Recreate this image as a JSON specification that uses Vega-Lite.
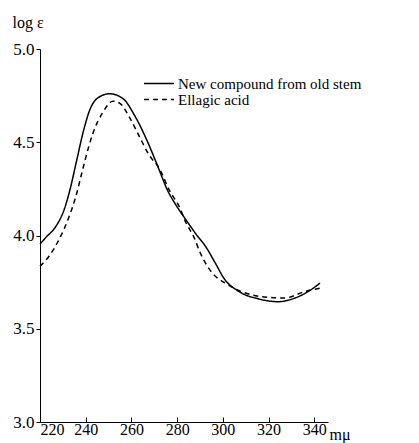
{
  "$schema": "https://vega.github.io/schema/vega-lite/v6.json",
  "width": 288,
  "height": 373,
  "autosize": {"type": "none"},
  "padding": {"left": 40, "top": 49, "right": 91, "bottom": 21},
  "background": "white",
  "config": {"view": {"stroke": null}, "font": "Liberation Serif"},
  "data": {
    "values": [
      {"series": "New compound from old stem", "wavelength": 220, "loge": 3.955},
      {"series": "New compound from old stem", "wavelength": 222.6, "loge": 3.99},
      {"series": "New compound from old stem", "wavelength": 227, "loge": 4.05},
      {"series": "New compound from old stem", "wavelength": 230.6, "loge": 4.14},
      {"series": "New compound from old stem", "wavelength": 233, "loge": 4.24},
      {"series": "New compound from old stem", "wavelength": 236, "loge": 4.4},
      {"series": "New compound from old stem", "wavelength": 239, "loge": 4.56},
      {"series": "New compound from old stem", "wavelength": 242, "loge": 4.68},
      {"series": "New compound from old stem", "wavelength": 245, "loge": 4.735},
      {"series": "New compound from old stem", "wavelength": 250.4, "loge": 4.76},
      {"series": "New compound from old stem", "wavelength": 256.2, "loge": 4.735},
      {"series": "New compound from old stem", "wavelength": 262, "loge": 4.63},
      {"series": "New compound from old stem", "wavelength": 267.5, "loge": 4.49},
      {"series": "New compound from old stem", "wavelength": 272.2, "loge": 4.35},
      {"series": "New compound from old stem", "wavelength": 275.5, "loge": 4.25},
      {"series": "New compound from old stem", "wavelength": 279.4, "loge": 4.165},
      {"series": "New compound from old stem", "wavelength": 283.8, "loge": 4.085},
      {"series": "New compound from old stem", "wavelength": 288.1, "loge": 4.01},
      {"series": "New compound from old stem", "wavelength": 292.5, "loge": 3.94},
      {"series": "New compound from old stem", "wavelength": 296.8, "loge": 3.85},
      {"series": "New compound from old stem", "wavelength": 300.5, "loge": 3.77},
      {"series": "New compound from old stem", "wavelength": 307, "loge": 3.7},
      {"series": "New compound from old stem", "wavelength": 315.7, "loge": 3.66},
      {"series": "New compound from old stem", "wavelength": 324.3, "loge": 3.645},
      {"series": "New compound from old stem", "wavelength": 331.6, "loge": 3.665},
      {"series": "New compound from old stem", "wavelength": 337.4, "loge": 3.7},
      {"series": "New compound from old stem", "wavelength": 342.5, "loge": 3.745},
      {"series": "Ellagic acid", "wavelength": 220, "loge": 3.835},
      {"series": "Ellagic acid", "wavelength": 224, "loge": 3.89},
      {"series": "Ellagic acid", "wavelength": 228.4, "loge": 3.98},
      {"series": "Ellagic acid", "wavelength": 232.7, "loge": 4.1},
      {"series": "Ellagic acid", "wavelength": 235.7, "loge": 4.21},
      {"series": "Ellagic acid", "wavelength": 238.6, "loge": 4.35},
      {"series": "Ellagic acid", "wavelength": 241.4, "loge": 4.48},
      {"series": "Ellagic acid", "wavelength": 243.2, "loge": 4.55},
      {"series": "Ellagic acid", "wavelength": 247.5, "loge": 4.66},
      {"series": "Ellagic acid", "wavelength": 251.9, "loge": 4.72},
      {"series": "Ellagic acid", "wavelength": 254.8, "loge": 4.71},
      {"series": "Ellagic acid", "wavelength": 259.1, "loge": 4.635},
      {"series": "Ellagic acid", "wavelength": 263.5, "loge": 4.53},
      {"series": "Ellagic acid", "wavelength": 267.8, "loge": 4.43},
      {"series": "Ellagic acid", "wavelength": 272.2, "loge": 4.36},
      {"series": "Ellagic acid", "wavelength": 276.5, "loge": 4.245},
      {"series": "Ellagic acid", "wavelength": 280.9, "loge": 4.155},
      {"series": "Ellagic acid", "wavelength": 283.8, "loge": 4.07},
      {"series": "Ellagic acid", "wavelength": 287.4, "loge": 3.99},
      {"series": "Ellagic acid", "wavelength": 290, "loge": 3.91},
      {"series": "Ellagic acid", "wavelength": 292.5, "loge": 3.85},
      {"series": "Ellagic acid", "wavelength": 295.3, "loge": 3.8},
      {"series": "Ellagic acid", "wavelength": 301, "loge": 3.745},
      {"series": "Ellagic acid", "wavelength": 308, "loge": 3.7},
      {"series": "Ellagic acid", "wavelength": 318, "loge": 3.67},
      {"series": "Ellagic acid", "wavelength": 327, "loge": 3.665},
      {"series": "Ellagic acid", "wavelength": 336, "loge": 3.7},
      {"series": "Ellagic acid", "wavelength": 343.5, "loge": 3.72}
    ]
  },
  "mark": {"type": "line", "interpolate": "monotone", "color": "black", "strokeWidth": 1.5},
  "encoding": {
    "x": {
      "field": "wavelength",
      "type": "quantitative",
      "scale": {"domain": [220, 346], "nice": false, "zero": false},
      "axis": {
        "values": [220, 240, 260, 280, 300, 320, 340],
        "grid": false,
        "domainColor": "black",
        "tickColor": "black",
        "tickSize": -5,
        "labelFont": "Liberation Serif",
        "labelFontSize": 16,
        "labelColor": "black",
        "labelFlush": true,
        "labelPadding": 4,
        "title": "mμ",
        "titleFont": "Liberation Serif",
        "titleFontSize": 16,
        "titleFontWeight": "normal",
        "titleColor": "black",
        "titleX": 289,
        "titleY": 17,
        "titleAlign": "left",
        "titleBaseline": "alphabetic"
      }
    },
    "y": {
      "field": "loge",
      "type": "quantitative",
      "scale": {"domain": [3.0, 5.0], "nice": false, "zero": false},
      "axis": {
        "values": [3.0, 3.5, 4.0, 4.5, 5.0],
        "format": ".1f",
        "grid": false,
        "domainColor": "black",
        "tickColor": "black",
        "tickSize": 4,
        "labelFont": "Liberation Serif",
        "labelFontSize": 17,
        "labelColor": "black",
        "labelPadding": 2,
        "title": "log ε",
        "titleFont": "Liberation Serif",
        "titleFontSize": 16,
        "titleFontWeight": "normal",
        "titleColor": "black",
        "titleAngle": 0,
        "titleX": -28,
        "titleY": -22,
        "titleAlign": "left",
        "titleBaseline": "alphabetic"
      }
    },
    "strokeDash": {
      "field": "series",
      "type": "nominal",
      "scale": {
        "domain": ["New compound from old stem", "Ellagic acid"],
        "range": [[1, 0], [5, 4]]
      },
      "legend": {
        "orient": "none",
        "legendX": 103,
        "legendY": 28,
        "title": null,
        "symbolType": "stroke",
        "symbolSize": 900,
        "symbolStrokeColor": "black",
        "symbolStrokeWidth": 1.5,
        "clipHeight": 13,
        "labelFont": "Liberation Serif",
        "labelFontSize": 15,
        "labelColor": "black",
        "labelOffset": 3,
        "rowPadding": 0,
        "labelLimit": 300
      }
    }
  }
}
